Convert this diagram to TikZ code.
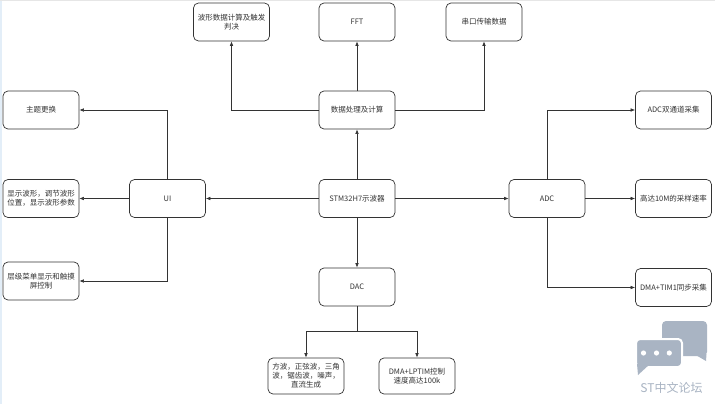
\documentclass[tikz,border=0pt]{standalone}
\usepackage{fontspec}
\setmainfont{Noto Sans CJK SC}
\usetikzlibrary{arrows.meta}
\definecolor{ln}{HTML}{333333}
\definecolor{tx}{HTML}{333333}
\definecolor{wm}{HTML}{A9B4C3}
\definecolor{edgeblue}{HTML}{E3EEF8}
\definecolor{edgegray}{HTML}{E6E6E6}
\begin{document}
\begin{tikzpicture}[x=1pt,y=-1pt,
  box/.style={draw=ln, line width=0.7pt, rounded corners=5pt, minimum width=76pt, minimum height=38pt, inner sep=1pt, align=center, font=\fontsize{7.5}{9}\selectfont, text=tx},
  conn/.style={draw=ln, line width=0.6pt, -{Latex[length=4.5pt,width=3.6pt]}},
]
\useasboundingbox (0,0) rectangle (715,404);
\fill[white] (0,0) rectangle (715,404);
\fill[edgeblue] (0,0) rectangle (2.2,404);
\fill[edgegray] (0,0) rectangle (715,1.2);

% top row
\node[box] (wave) at (231.5,22) {波形数据计算及触发\\判决};
\node[box] (fft)  at (357,22) {FFT};
\node[box] (uart) at (484,22) {串口传输数据};
\node[box] (proc) at (357,110) {数据处理及计算};
% middle
\node[box] (main) at (357,198.5) {STM32H7示波器};
\node[box] (ui)   at (167.5,198.5) {UI};
\node[box] (adc)  at (547,198.5) {ADC};
\node[box] (dac)  at (357,287) {DAC};
% left column
\node[box] (theme) at (41,110) {主题更换};
\node[box] (disp)  at (41,198.5) {显示波形，调节波形\\位置，显示波形参数};
\node[box] (menu)  at (41,281) {层级菜单显示和触摸\\屏控制};
% right column
\node[box] (dual)  at (673.5,110) {ADC双通道采集};
\node[box] (rate)  at (673.5,198.5) {高达10M的采样速率};
\node[box] (sync)  at (673.5,287.5) {DMA+TIM1同步采集};
% bottom
\node[box, minimum height=36pt] (waves) at (306,376) {方波，正弦波，三角\\波，锯齿波，噪声，\\直流生成};
\node[box, minimum height=36pt] (lptim) at (417,376) {DMA+LPTIM控制\\速度高达100k};

\coordinate (dacj) at (357,331);

% connectors
\draw[conn] (main) -- (proc);
\draw[conn] (proc) -- (fft);
\draw[conn] (proc.west) -| (wave.south);
\draw[conn] (proc.east) -| (uart.south);
\draw[conn] (main) -- (ui);
\draw[conn] (main) -- (adc);
\draw[conn] (main) -- (dac);
\draw[conn] (ui.north) |- (theme.east);
\draw[conn] (ui) -- (disp);
\draw[conn] (ui.south) |- (menu.east);
\draw[conn] (adc.north) |- (dual.west);
\draw[conn] (adc) -- (rate);
\draw[conn] (adc.south) |- (sync.west);
\draw[draw=ln, line width=0.6pt] (dac.south) -- (dacj);
\draw[conn] (dacj) -| (waves.north);
\draw[conn] (dacj) -| (lptim.north);

% watermark
\fill[wm, rounded corners=4pt] (662,321) rectangle (707,356);
\fill[wm] (694,354) -- (706.5,354) -- (706,361) -- cycle;
\fill[wm, draw=white, line width=2pt, rounded corners=4pt] (636,339) rectangle (682,367);
\fill[wm] (637,364) -- (650,364) -- (638,375) -- cycle;
\fill[white] (643.5,353) circle (2.6);
\fill[white] (656.5,353) circle (2.6);
\fill[white] (669.3,353) circle (2.6);
\node[text=wm, font=\fontsize{12}{12}\selectfont, inner sep=0pt] (wmtext) at (671.5,388) {ST中文论坛};
\end{tikzpicture}
\end{document}
